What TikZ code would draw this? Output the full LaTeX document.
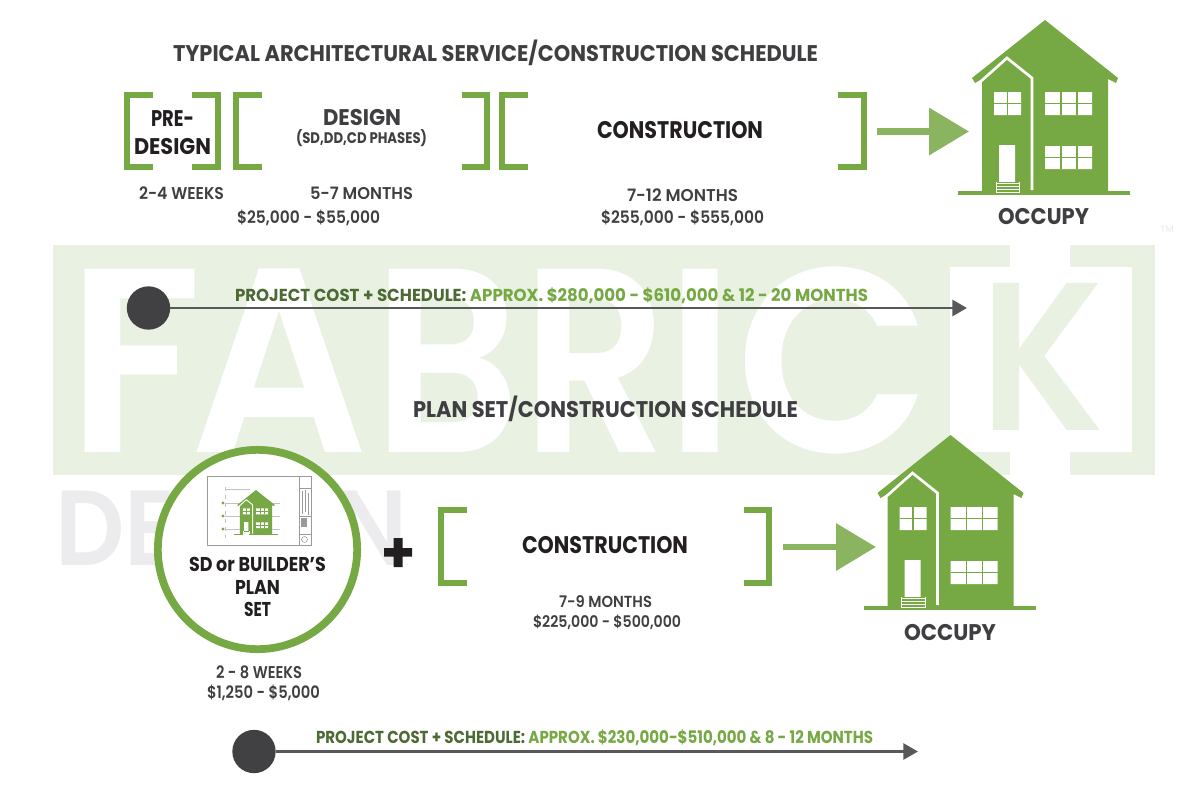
\documentclass[tikz,border=0pt]{standalone}
\usepackage{fontspec}
\usepackage{graphicx}
\setmainfont{Poppins}
\newfontfamily\fbold{Poppins Bold}
\newfontfamily\fsemi{Poppins SemiBold}
\newfontfamily\fmed{Poppins Medium}
\usetikzlibrary{arrows.meta}
\definecolor{grn}{HTML}{76A843}
\definecolor{grnl}{HTML}{8AB45F}
\definecolor{grnd}{HTML}{4D6A34}
\definecolor{wmg}{HTML}{E9F1E2}
\definecolor{wmd}{HTML}{ECECEE}
\definecolor{ink}{HTML}{3F3F42}
\definecolor{blk}{HTML}{231F20}
\definecolor{dotc}{HTML}{414143}
\definecolor{linec}{HTML}{58585A}
\definecolor{planline}{HTML}{9A9A9A}
\newsavebox\tbox
\newcommand\TT[3]{\sbox\tbox{\fontsize{#2}{#2}\selectfont #3}\scalebox{\fpeval{#1*0.75/(\the\wd\tbox)}}[1]{\usebox\tbox}}
\newcommand\HS[1]{\hspace{\fpeval{#1*0.75}pt}}
\newcommand\drawhouse[1]{%
  \fill[grn] (1045,20)--(1118,78)--(1116,83)--(1108,79)--(1108,191)--(982,191)--(982,79)--(975,83)--(972,78)--cycle;
  \fill[grn] (958,191) rectangle (1130,195);
  \draw[white,line width=#1*2pt,miter limit=10] (979,83)--(1007,58)--(1032,78)--(1032,190);
  \fill[white] (994,92) rectangle (1021,115) (1045,92) rectangle (1092,115) (1045,146) rectangle (1092,169) (999,145) rectangle (1015,184);
  \draw[grn,line width=#1*0.8pt] (1007.5,92)--(1007.5,115) (994,103.5)--(1021,103.5)
    (1045,103.5)--(1092,103.5) (1061,92)--(1061,115) (1077,92)--(1077,115)
    (1045,157.5)--(1092,157.5) (1061,146)--(1061,169) (1077,146)--(1077,169);
  \fill[grn] (995,182) rectangle (1020,191);
  \draw[white,line width=#1*0.7pt] (996,182)--(996,193) (1019.5,182)--(1019.5,193)
    (996,183)--(1019.5,183) (996,186)--(1019.5,186) (996,189)--(1019.5,189) (996,192.5)--(1019.5,192.5);
}
\tikzset{
  txt/.style={inner sep=0pt,outer sep=0pt,text=ink,anchor=center},
  blacktxt/.style={txt,text=blk},
  brk/.style={draw=grn,line width=4.4pt,miter limit=10},
  block/.style={draw=grnl,line width=5.2pt,-{Triangle[length=30pt,width=34.5pt]}},
  timeline/.style={draw=linec,line width=2pt,-{Triangle[length=11pt,width=12pt]}},
  tdot/.style={circle,fill=dotc,minimum size=32.5pt,inner sep=0pt,outer sep=0pt},
  plan/.style={draw=planline,line width=0.7pt},
  planthin/.style={draw=planline!60,line width=0.35pt}
}
\begin{document}
\begin{tikzpicture}[x=0.75pt,y=-0.75pt]
\useasboundingbox (0,0) rectangle (1200,800);
% watermark
\fill[wmg] (53,245) rectangle (1155,475);
\node[anchor=base west,inner sep=0pt,text=white] (wmfabric) at (67,452) {\fsemi\TT{135}{197}{F}\HS{-12}\TT{178}{197}{A}\HS{5}\TT{147}{197}{B}\HS{2}\TT{145}{197}{R}\HS{-2}\TT{70}{197}{I}\HS{1}\TT{195}{197}{C}};
\fill[white] (950,267)--(1010,267)--(1010,245)--(1070,245)--(1070,267)--(1132,267)--(1132,452)--(1070,452)--(1070,475)--(1010,475)--(1010,452)--(950,452)--cycle;
\node[anchor=base west,inner sep=0pt,text=wmg] (wmk) at (980,430) {\fsemi\TT{124}{158}{K}};
\node[anchor=base west,inner sep=0pt,text=wmd] (wmdesign) at (55,565) {\fsemi\TT{352}{80}{DESIGN}};
\node[text=wmg,inner sep=0pt] (wmtm) at (1167,229) {\fmed\fontsize{7}{7}\selectfont TM};
% titles
\node[txt] (title1) at (495.5,53) {\TT{645}{17}{\fbold TYPICAL ARCHITECTURAL SERVICE/CONSTRUCTION SCHEDULE}};
\node[txt] (title2) at (605.5,409) {\TT{385}{17}{\fbold PLAN SET/CONSTRUCTION SCHEDULE}};
% brackets top
\draw[brk] (153,95)--(127,95)--(127,167)--(153,167);
\draw[brk] (192,95)--(218,95)--(218,167)--(192,167);
\draw[brk] (262,95)--(236,95)--(236,167)--(262,167);
\draw[brk] (462,95)--(487,95)--(487,167)--(462,167);
\draw[brk] (528,95)--(502,95)--(502,167)--(528,167);
\draw[brk] (838,95)--(864,95)--(864,167)--(838,167);
% text top
\node[blacktxt] (pre) at (172.5,119) {\TT{43}{17}{\fbold PRE-}};
\node[blacktxt] (predesign) at (172.5,147) {\TT{77}{17}{\fbold DESIGN}};
\node[txt] (design) at (362,118) {\TT{78}{17}{\fbold DESIGN}};
\node[txt] (phases) at (361.5,138) {\TT{131}{11.5}{\fbold (SD,DD,CD PHASES)}};
\node[txt] (w24) at (181.5,193) {\TT{85}{12.8}{\fsemi 2-4 WEEKS}};
\node[txt] (m57) at (361.5,193) {\TT{103}{12.8}{\fsemi 5-7 MONTHS}};
\node[txt] (c1) at (308.5,218) {\TT{143}{12.8}{\fsemi \$25,000 - \$55,000}};
\node[blacktxt] (cons1) at (680,130) {\TT{166}{18}{\fbold CONSTRUCTION}};
\node[txt] (m712) at (682.5,195) {\TT{111}{12.8}{\fsemi 7-12 MONTHS}};
\node[txt] (c2) at (682.5,218) {\TT{163}{12.8}{\fsemi \$255,000 - \$555,000}};
% arrow top
\coordinate (a1s) at (877,131.5);
\coordinate (a1e) at (969,131.5);
\draw[block] (a1s)--(a1e);
% house top
\drawhouse{1}
\node[txt] (occ1) at (1043.5,217) {\TT{91}{17}{\fbold OCCUPY}};
% timeline 1
\node[tdot] (d1) at (148.5,308) {};
\coordinate (e1) at (967,308);
\draw[timeline] (d1)--(e1);
\node[txt] (pc1) at (551.5,296) {\TT{633}{13}{\fbold {\color{grnd}PROJECT COST + SCHEDULE: }{\color{grn}APPROX. \$280,000 - \$610,000 \& 12 - 20 MONTHS}}};
% circle
\node[circle,draw=grn,line width=5.8pt,fill=white,minimum size=149.5pt,inner sep=0pt,outer sep=0pt] (ring) at (257.5,549.5) {};
% blueprint
\draw[plan] (207,476) rectangle (311,545);
\draw[plan] (299,476)--(299,545) (299,488)--(311,488) (299,516)--(311,516) (299,534)--(311,534);
\draw[plan,line width=0.3pt] (302,491)--(302,514) (305,490)--(305,512) (308,493)--(308,515);
\fill[planline] (301,518) rectangle (307,527);
\draw[plan,line width=0.4pt] (304.5,539.5) circle (3);
\draw[planthin] (225,489)--(250,489) (225,503)--(280,503) (225,516)--(280,516) (225,529)--(280,529);
\draw[planthin,dashed] (225,487)--(225,538);
\fill[grn] (223,503) circle (1.7) (223,516) circle (1.7) (223,529) circle (1.7);
\begin{scope}[shift={(-11.5,484.9)},scale=0.256]
\drawhouse{0.35}
\end{scope}
\node[blacktxt] (sd) at (257.5,564) {\TT{137}{15}{\fbold SD or BUILDER’S}};
\node[blacktxt] (plan) at (257.5,587) {\TT{45}{15}{\fbold PLAN}};
\node[blacktxt] (set) at (257.5,609) {\TT{27}{15}{\fbold SET}};
% plus
\fill[blk] (384,548) rectangle (412,556.5) (393.5,538) rectangle (402.5,567);
% brackets bottom
\draw[brk] (467,510)--(441,510)--(441,583)--(467,583);
\draw[brk] (744,510)--(769,510)--(769,583)--(744,583);
\node[blacktxt] (cons2) at (605,545) {\TT{166}{18}{\fbold CONSTRUCTION}};
\node[txt] (m79) at (605.5,602) {\TT{93}{12}{\fsemi 7-9 MONTHS}};
\node[txt] (c3) at (607,622) {\TT{148}{12}{\fsemi \$225,000 - \$500,000}};
\coordinate (a2s) at (783,547);
\coordinate (a2e) at (876,547);
\draw[block] (a2s)--(a2e);
\begin{scope}[shift={(-94.5,415)}]
\drawhouse{1}
\end{scope}
\node[txt] (occ2) at (950,633) {\TT{92}{17}{\fbold OCCUPY}};
\node[txt] (w28) at (259,672) {\TT{86}{12.8}{\fsemi 2 - 8 WEEKS}};
\node[txt] (c4) at (263.5,693) {\TT{113}{12.8}{\fsemi \$1,250 - \$5,000}};
% timeline 2
\node[tdot] (d2) at (254,751.5) {};
\coordinate (e2) at (918,751.5);
\draw[timeline] (d2)--(e2);
\node[txt] (pc2) at (594.5,738) {\TT{557}{13}{\fbold {\color{grnd}PROJECT COST + SCHEDULE: }{\color{grn}APPROX. \$230,000-\$510,000 \& 8 - 12 MONTHS}}};
\end{tikzpicture}
\end{document}
